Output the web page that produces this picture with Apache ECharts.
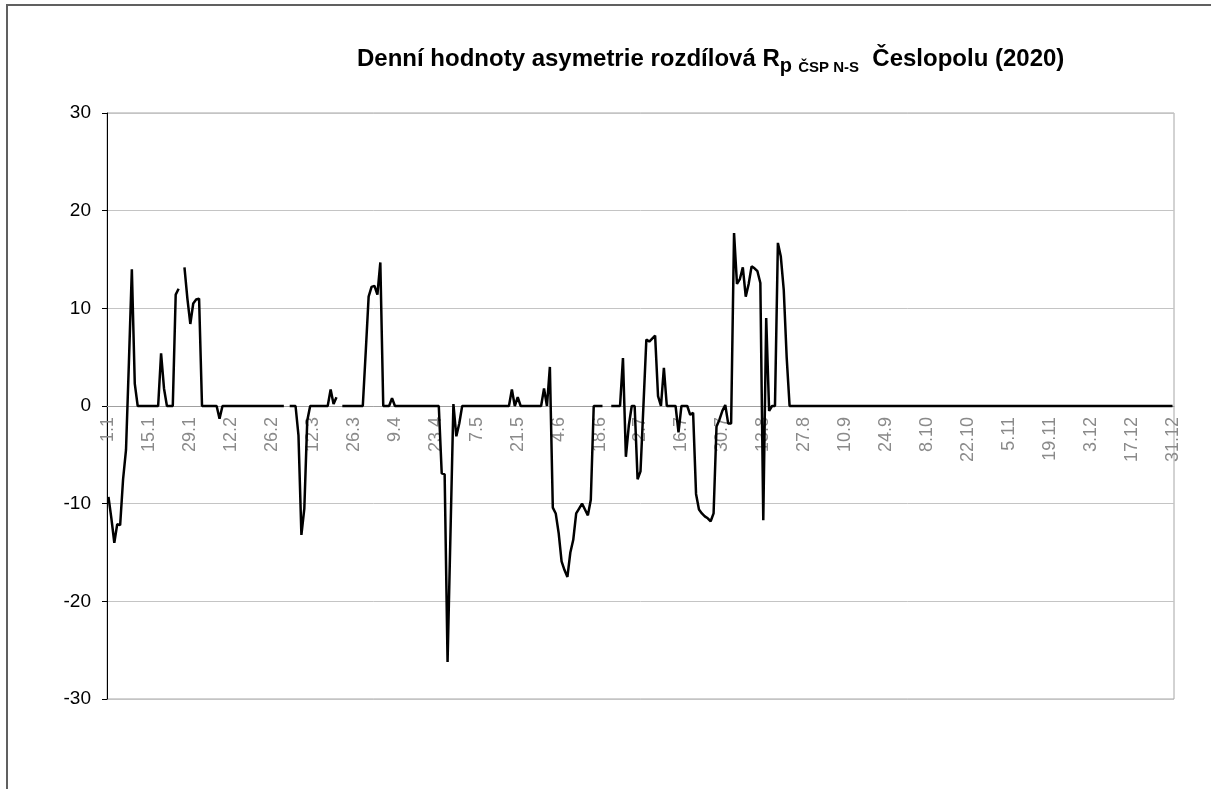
<!DOCTYPE html>
<html>
<head>
<meta charset="UTF-8">
<title>Denní hodnoty asymetrie</title>
<script src="https://cdn.jsdelivr.net/npm/echarts@6/dist/echarts.min.js"></script>
<style>
  html, body { margin: 0; padding: 0; background: #fff; }
  #main { width: 1211px; height: 789px; }
</style>
</head>
<body>
<div id="main"></div>
<script type="text/javascript">
    // denní hodnoty po měsících (rok bez 29.2.), null = chybějící den
    var monthLengths = [31, 28, 31, 30, 31, 30, 31, 31, 30, 31, 30, 31];

    var jan = [-9.3, -11.5, -14, -12.1, -12.2, -7.5, -4.5, 4.5, 14, 2.3, 0, 0, 0, 0, 0, 0, 0, 0, 5.4, 1.8,
               0, 0, 0, 11.4, 12, null, 14.2, 11, 8.4, 10.5, 10.9];
    var feb = [11, 0, 0, 0, 0, 0, 0, -1.3, 0, 0, 0, 0, 0, 0, 0, 0, 0, 0, 0, 0,
               0, 0, 0, 0, 0, 0, 0, 0];
    var mar = [0, 0, null, 0, 0, 0, -3, -13.2, -10.5, -1.5, 0, 0, 0, 0, 0, 0, 0, 1.7, 0.2, 0.9,
               null, 0, 0, 0, 0, 0, 0, 0, 0, 5.5, 11.2];
    var apr = [12.2, 12.3, 11.4, 14.7, 0, 0, 0, 0.8, 0, 0, 0, 0, 0, 0, 0, 0, 0, 0, 0, 0,
               0, 0, 0, 0, -6.9, -7.0, -26.2, -13, 0.2, -3.1];
    var may = [-1.8, 0, 0, 0, 0, 0, 0, 0, 0, 0, 0, 0, 0, 0, 0, 0, 0, 0, 1.7, 0,
               0.9, 0, 0, 0, 0, 0, 0, 0, 0, 1.8, 0];
    var jun = [4.0, -10.4, -11, -13, -15.9, -16.8, -17.5, -15, -13.7, -11, -10.5, -10, -10.6, -11.2, -9.6, 0, 0, 0, 0, null,
               null, 0, 0, 0, 0, 4.9, -5.2, -2, 0, 0];
    var jul = [-7.5, -6.7, 0, 6.8, 6.6, 6.9, 7.2, 1, 0, 3.9, 0, 0, 0, 0, -2.7, 0, 0, 0, -0.9, -0.7,
               -9, -10.6, -11, -11.3, -11.5, -11.8, -11, -2.1, -1.4, -0.5, 0.1];
    var aug = [-1.8, -1.8, 17.7, 12.5, 13, 14.2, 11.2, 12.5, 14.3, 14.1, 13.8, 12.6, -11.7, 9.0, -0.5, 0, 0, 16.7, 15.3, 11.9,
               5, 0, 0, 0, 0, 0, 0, 0, 0, 0, 0];
    var sep = [0, 0, 0, 0, 0, 0, 0, 0, 0, 0, 0, 0, 0, 0, 0, 0, 0, 0, 0, 0,
               0, 0, 0, 0, 0, 0, 0, 0, 0, 0];
    var oct = [0, 0, 0, 0, 0, 0, 0, 0, 0, 0, 0, 0, 0, 0, 0, 0, 0, 0, 0, 0,
               0, 0, 0, 0, 0, 0, 0, 0, 0, 0, 0];
    var nov = [0, 0, 0, 0, 0, 0, 0, 0, 0, 0, 0, 0, 0, 0, 0, 0, 0, 0, 0, 0,
               0, 0, 0, 0, 0, 0, 0, 0, 0, 0];
    var dec = [0, 0, 0, 0, 0, 0, 0, 0, 0, 0, 0, 0, 0, 0, 0, 0, 0, 0, 0, 0,
               0, 0, 0, 0, 0, 0, 0, 0, 0, 0, 0];

    var months = [jan, feb, mar, apr, may, jun, jul, aug, sep, oct, nov, dec];

    // kategorie "d.m" a hodnoty
    var days = [];
    var values = [];
    for (var m = 0; m < months.length; m++) {
        for (var d = 0; d < monthLengths[m]; d++) {
            days.push((d + 1) + '.' + (m + 1));
            values.push(months[m][d]);
        }
    }

    var yMin = -30, yMax = 30;
    var gridTop = 113, gridBottom = 90, chartH = 789;

    var myChart = echarts.init(document.getElementById('main'));

    // osa x leží na nule: posun od spodního okraje gridu
    var plotH = chartH - gridTop - gridBottom;
    var zeroOffset = -plotH * (0 - yMin) / (yMax - yMin);

    var option = {
        backgroundColor: '#fff',
        animation: false,
        title: {
            text: '{a|Denní hodnoty asymetrie rozdílová R}{p|p}{s| ČSP N-S}{a|  Česlopolu (2020)}',
            left: 352,
            top: 39,
            textStyle: {
                rich: {
                    a: { fontFamily: 'Liberation Sans', fontWeight: 'bold', fontSize: 24, lineHeight: 30, color: '#000' },
                    p: { fontFamily: 'Liberation Sans', fontWeight: 'bold', fontSize: 20, lineHeight: 20, padding: [14, 0, 0, 0], color: '#000' },
                    s: { fontFamily: 'Liberation Sans', fontWeight: 'bold', fontSize: 15, lineHeight: 15, padding: [18, 0, 0, 2], color: '#000' }
                }
            }
        },
        graphic: [{
            type: 'polyline',
            shape: { points: [[7, 789], [7, 5], [1211, 5]] },
            style: { stroke: '#606060', lineWidth: 2, fill: null }
        }],
        grid: {
            left: 107,
            right: 37,
            top: gridTop,
            bottom: gridBottom,
            show: true,
            borderColor: '#a6a6a6',
            borderWidth: 1
        },
        xAxis: {
            type: 'category',
            data: days,
            boundaryGap: true,
            position: 'bottom',
            offset: zeroOffset,
            axisLine: { onZero: false, lineStyle: { color: '#a0a0a0', width: 1 } },
            axisTick: { interval: 13, length: 5, lineStyle: { color: '#a0a0a0' } },
            axisLabel: {
                interval: 13,
                rotate: 90,
                margin: 11,
                fontFamily: 'Liberation Sans',
                fontSize: 18,
                color: '#8a8a8a'
            },
            splitLine: { show: false }
        },
        yAxis: {
            type: 'value',
            min: yMin,
            max: yMax,
            interval: 10,
            axisLine: { show: true, lineStyle: { color: '#000', width: 1 } },
            axisTick: { show: true, length: 5, lineStyle: { color: '#000' } },
            axisLabel: {
                margin: 16,
                fontFamily: 'Liberation Sans',
                fontSize: 19,
                color: '#000'
            },
            splitLine: { lineStyle: { color: '#c4c4c4', width: 1 } }
        },
        series: [{
            name: 'Rp',
            type: 'line',
            data: values,
            showSymbol: false,
            connectNulls: false,
            lineStyle: { color: '#000', width: 2.5 },
            z: 5
        }]
    };

    myChart.setOption(option);
</script>
</body>
</html>
